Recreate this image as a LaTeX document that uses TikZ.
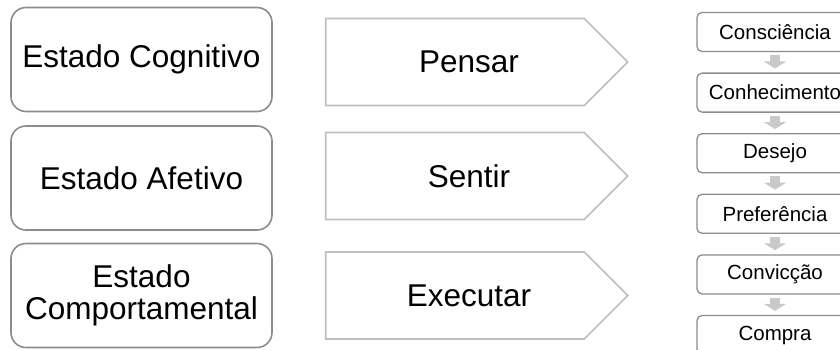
\documentclass[tikz,border=0pt]{standalone}
\usepackage{fontspec}
\setmainfont{Liberation Sans}
\usetikzlibrary{positioning,shapes.symbols,arrows.meta}
\definecolor{boxgray}{HTML}{8C8C8C}
\definecolor{chevgray}{HTML}{BFBFBF}
\definecolor{flowgray}{HTML}{C9C9C9}
\tikzset{
  estado/.style={draw=boxgray, line width=1.6pt, rounded corners=15pt,
                 minimum width=261pt, minimum height=104pt, inner sep=0pt,
                 align=center, font=\fontsize{31.5}{32}\selectfont},
  acao/.style={draw=chevgray, line width=1.6pt, signal, signal to=east,
               signal pointer angle=90, minimum width=302pt, minimum height=87pt,
               inner sep=0pt},
  acaotxt/.style={xshift=14pt, inner sep=0pt, font=\fontsize{31.5}{32}\selectfont},
  etapa/.style={draw=boxgray, line width=1.3pt, rounded corners=5pt,
                minimum width=156pt, minimum height=39pt, inner sep=0pt,
                font=\fontsize{20.5}{24}\selectfont},
  fluxo/.style={draw=flowgray, line width=10pt,
                -{Triangle[width=22pt,length=7pt]},
                shorten <=3pt, shorten >=4pt}
}
\begin{document}
\begin{tikzpicture}[x=1pt,y=-1pt]
  \useasboundingbox (0,0) rectangle (840,349);
  % estados
  \node[estado] (cog) at (141.5,59.5) {Estado Cognitivo};
  \node[estado] (afe) at (141.5,178) {Estado Afetivo};
  \node[estado] (com) at (141.5,295.5) {Estado\\Comportamental};
  % acoes
  \node[acao, label={[acaotxt]center:Pensar}] (pensar) at (455,62) {};
  \node[acao, label={[acaotxt]center:Sentir}] (sentir) at (455,176) {};
  \node[acao, label={[acaotxt]center:Executar}] (executar) at (455,295.5) {};
  % etapas
  \node[etapa] (e1) at (775,32) {Consciência};
  \foreach \t [count=\i from 2, remember=\i as \j (initially 1)] in
      {Conhecimento,Desejo,Preferência,Convicção,Compra}
    \node[etapa, below=20.3pt of e\j] (e\i) {\t};
  \foreach \i [remember=\i as \j (initially 1)] in {2,...,6}
    \draw[fluxo] (e\j) -- (e\i);
\end{tikzpicture}
\end{document}
